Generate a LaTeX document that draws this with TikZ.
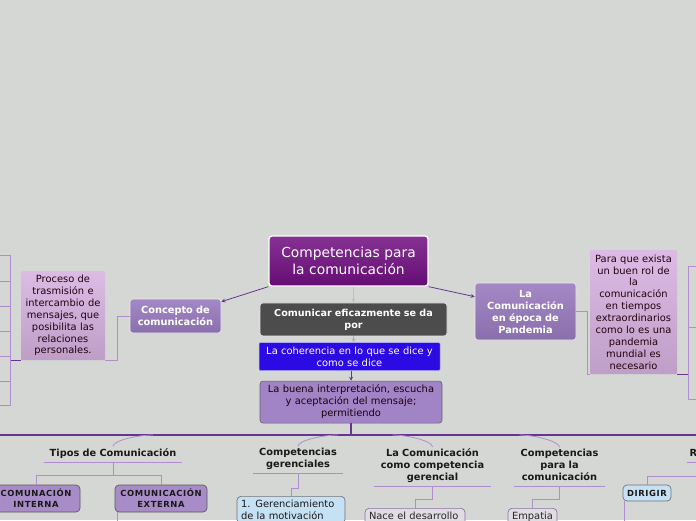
\documentclass[tikz,border=0pt]{standalone}
\usepackage{fontspec}
\setmainfont{DejaVu Sans}
\usepackage{tikz}
\usetikzlibrary{positioning, arrows, calc}
\definecolor{canvas}{RGB}{213,215,212}
\definecolor{trunkcol}{RGB}{104,52,146}
\definecolor{branchcol}{RGB}{176,142,206}
\definecolor{rootcol}{RGB}{112,14,128}
\definecolor{topiccol}{RGB}{156,126,194}
\definecolor{notecol}{RGB}{216,180,226}
\definecolor{capscol}{RGB}{168,140,200}
\definecolor{skycol}{RGB}{198,224,244}
\definecolor{leafcol}{RGB}{224,221,226}
\tikzset{
	>=stealth,
	node distance=1cm,
	box/.style={rounded corners=3pt, align=center, inner sep=2pt},
	root/.style={box, draw=white, line width=1.3pt, top color=rootcol!85!white, bottom color=rootcol!90!black, text=white, text width=155pt, minimum height=50pt, font=\fontsize{13.8}{17}\selectfont},
	topic/.style={box, draw=white!85!gray, line width=0.6pt, top color=topiccol!92!white, bottom color=topiccol!88!black, text=white, font=\fontsize{9.8}{12}\selectfont\bfseries},
	note/.style={box, rounded corners=1pt, top color=notecol!90!white, bottom color=notecol!88!black, text=black!80!purple, font=\fontsize{9.9}{11.9}\selectfont},
	darkbox/.style={box, draw=white!80!gray, line width=0.6pt, fill=black!70, text=white, text width=183pt, minimum height=33pt, font=\fontsize{9.6}{12}\selectfont\bfseries},
	bluebox/.style={box, rounded corners=1pt, draw=blue!30!white, line width=0.5pt, fill={rgb,255:red,44;green,10;blue,228}, text=white, text width=177pt, minimum height=28pt, font=\fontsize{9.9}{12}\selectfont},
	softbox/.style={box, draw=black!60, line width=0.6pt, fill=topiccol!95!white, text=black!85!purple, text width=178pt, minimum height=42pt, font=\fontsize{9.9}{12}\selectfont},
	heading/.style={align=center, inner xsep=0pt, inner ysep=1.6pt, execute at end node=\strut, anchor=south, text=black!90, font=\fontsize{9.8}{12}\selectfont\bfseries},
	capsbox/.style={box, rounded corners=4pt, draw=black!65, line width=0.7pt, fill=capscol, text=black!90, font=\fontsize{8.4}{11}\selectfont\bfseries\addfontfeatures{LetterSpace=7}},
	skybox/.style={box, rounded corners=4pt, draw=black!55, line width=0.7pt, fill=skycol, text=black!90},
	leaf/.style={box, rounded corners=4pt, draw=branchcol!80!black, line width=0.7pt, fill=leafcol, text=black!85, align=left, anchor=north, inner xsep=4pt, inner ysep=4pt, text depth=12pt, font=\fontsize{9.9}{12.5}\selectfont},
	trunk/.style={draw=trunkcol, line width=1.2pt},
	link/.style={draw=trunkcol, line width=0.8pt},
	branch/.style={draw=branchcol, line width=0.8pt},
}

\begin{document}
\begin{tikzpicture}[x=1pt, y=-1pt]
	\useasboundingbox (0,0) rectangle (696,520);
	\clip (0,0) rectangle (696,520);
	\fill[canvas] (0,0) rectangle (696,520);

	% centre column
	\node[root] (ROOT) at (348.5,261) {Competencias para\\la comunicación};
	\node[darkbox, below=16pt of ROOT, xshift=5pt] (EFICAZ) {Comunicar eficazmente se da\\por};
	\node[bluebox, below=6pt of EFICAZ, xshift=-4pt] (COHERENCIA) {La coherencia en lo que se dice y\\como se dice};
	\node[softbox, below=10pt of COHERENCIA, xshift=1.5pt] (BUENA) {La buena interpretación, escucha\\y aceptación del mensaje;\\permitiendo};

	% left and right topics
	\node[topic, text width=87pt, minimum height=34pt] (CONCEPTO) at (175.5,316) {Concepto de\\comunicación};
	\node[note, text width=80pt, minimum height=89pt] (PROCESO) at (63,315.5) {Proceso de\\trasmisión e\\intercambio de\\mensajes, que\\posibilita las\\relaciones\\personales.};
	\node[topic, text width=97pt, minimum height=57pt] (PANDEMIA) at (525.5,311.5) {La\\Comunicación\\en época de\\Pandemia};
	\node[note, text width=83pt, minimum height=124pt] (NECESARIO) at (633.5,312) {Para que exista\\un buen rol de\\la\\comunicación\\en tiempos\\extraordinarios\\como lo es una\\pandemia\\mundial es\\necesario};

	\draw[link, ->] (ROOT.south west) -- ($(CONCEPTO.north east)+(0,3)$);
	\draw[link, ->] (ROOT.south east) -- ($(PANDEMIA.north west)+(0,14)$);
	\draw[draw=black!25, line width=0.8pt, ->] (EFICAZ.north |- ROOT.south) -- (EFICAZ.north);
	\draw[draw=black!30, line width=0.8pt, ->] (EFICAZ.south) -- (EFICAZ.south |- COHERENCIA.north);
	\draw[link, ->] (COHERENCIA.south -| BUENA.north) -- (BUENA.north);

	\draw[branch] (CONCEPTO.west) -- ++(-12,0) |- (PROCESO.south east);
	\draw[branch] (PANDEMIA.east) -- ++(11,0) |- (NECESARIO.south west);

	% side brackets
	\coordinate (LSPINE) at ($(PROCESO.south west)+(-10,0)$);
	\coordinate (RSPINE) at ($(NECESARIO.south east)+(11,0)$);
	\draw[link] (PROCESO.south west) -- (LSPINE);
	\draw[link] (NECESARIO.south east) -- (RSPINE);
	\draw[branch] (LSPINE |- 0,255) -- (LSPINE |- 0,405);
	\foreach \y in {255,281,306,331,356,381,405}
		\draw[branch] (LSPINE |- 0,\y) -- (0,\y);
	\draw[branch] (RSPINE |- 0,266) -- (RSPINE |- 0,399);
	\foreach \y in {266,327,399}
		\draw[branch] (RSPINE |- 0,\y) -- (696,\y);

	% trunk
	\coordinate (HUB) at (BUENA.south |- 0,435);
	\coordinate (TRUNKW) at (0,435);
	\coordinate (TRUNKE) at (696,435);
	\draw[trunk] (BUENA.south) -- (HUB);
	\draw[trunk] (TRUNKW) -- (TRUNKE);

	% bottom headings
	\node[heading, text width=138pt] (TIPOS) at (113,462) {Tipos de Comunicación};
	\node[heading, text width=90pt] (GERENCIALES) at (298,473) {Competencias\\gerenciales};
	\node[heading, text width=117pt] (LACOM) at (432.5,486) {La Comunicación\\como competencia\\gerencial};
	\node[heading, text width=91pt] (PARACOM) at (559.5,486) {Competencias\\para la\\comunicación};
	\node[heading, text width=60pt, align=left, anchor=south west] (ROL) at (687,462) {\hspace*{2.5pt}R};

	\foreach \n in {TIPOS, GERENCIALES, LACOM, PARACOM, ROL}
		\draw[branch] (\n.south west) -- (\n.south east);
	\draw[branch] (TIPOS.north) .. controls +(0,-6) and +(-15,0) .. ($(TIPOS.north |- HUB)+(40,0)$);
	\draw[branch] (GERENCIALES.north) .. controls +(0,-6) and +(-15,0) .. ($(GERENCIALES.north |- HUB)+(40,0)$);
	\draw[branch] (LACOM.north) .. controls +(0,-6) and +(15,0) .. ($(LACOM.north |- HUB)+(-40,0)$);
	\draw[branch] (PARACOM.north) .. controls +(0,-6) and +(15,0) .. ($(PARACOM.north |- HUB)+(-40,0)$);

	% bottom leaves
	\node[capsbox, text width=84pt, minimum height=27pt] (INTERNA) at (36,498.5) {COMUNACIÓN\\INTERNA};
	\node[capsbox, text width=88pt, minimum height=27pt] (EXTERNA) at (161,498.5) {COMUNICACIÓN\\EXTERNA};
	\node[skybox, anchor=north, align=left, inner xsep=4pt, inner ysep=3.5pt, text width=100pt, font=\fontsize{9.9}{12.5}\selectfont] (MOTIVACION) at (291,496) {1. Gerenciamiento\\de la motivación};
	\node[leaf, text width=92pt] (NACE) at (415,508) {Nace el desarrollo};
	\node[leaf, text width=41pt] (EMPATIA) at (532.5,508) {Empatia};
	\node[skybox, text width=46pt, minimum height=16pt, inner sep=1pt, font=\fontsize{8.4}{10}\selectfont\bfseries\addfontfeatures{LetterSpace=7}] (DIRIGIR) at (647,493) {DIRIGIR};

	\draw[branch] (TIPOS.south) -- ++(0,13) -| (INTERNA.north);
	\draw[branch] (TIPOS.south) -- ++(0,13) -| (EXTERNA.north);
	\draw[branch] (GERENCIALES.south) -- ++(0,15) -| (MOTIVACION.north);
	\draw[branch] (LACOM.south) -- ++(0,13) -| (NACE.north);
	\draw[branch] (PARACOM.south) -- ++(0,13) -| (EMPATIA.north);
	\coordinate (ROLSTEM) at (700,476);
	\draw[branch] (DIRIGIR.north) |- (ROLSTEM);
	\draw[branch] ($(EXTERNA.south west)+(3,0)$) -- ++(0,20);
	\draw[branch] ($(DIRIGIR.south west)+(2,0)$) -- ++(0,30);
\end{tikzpicture}
\end{document}
